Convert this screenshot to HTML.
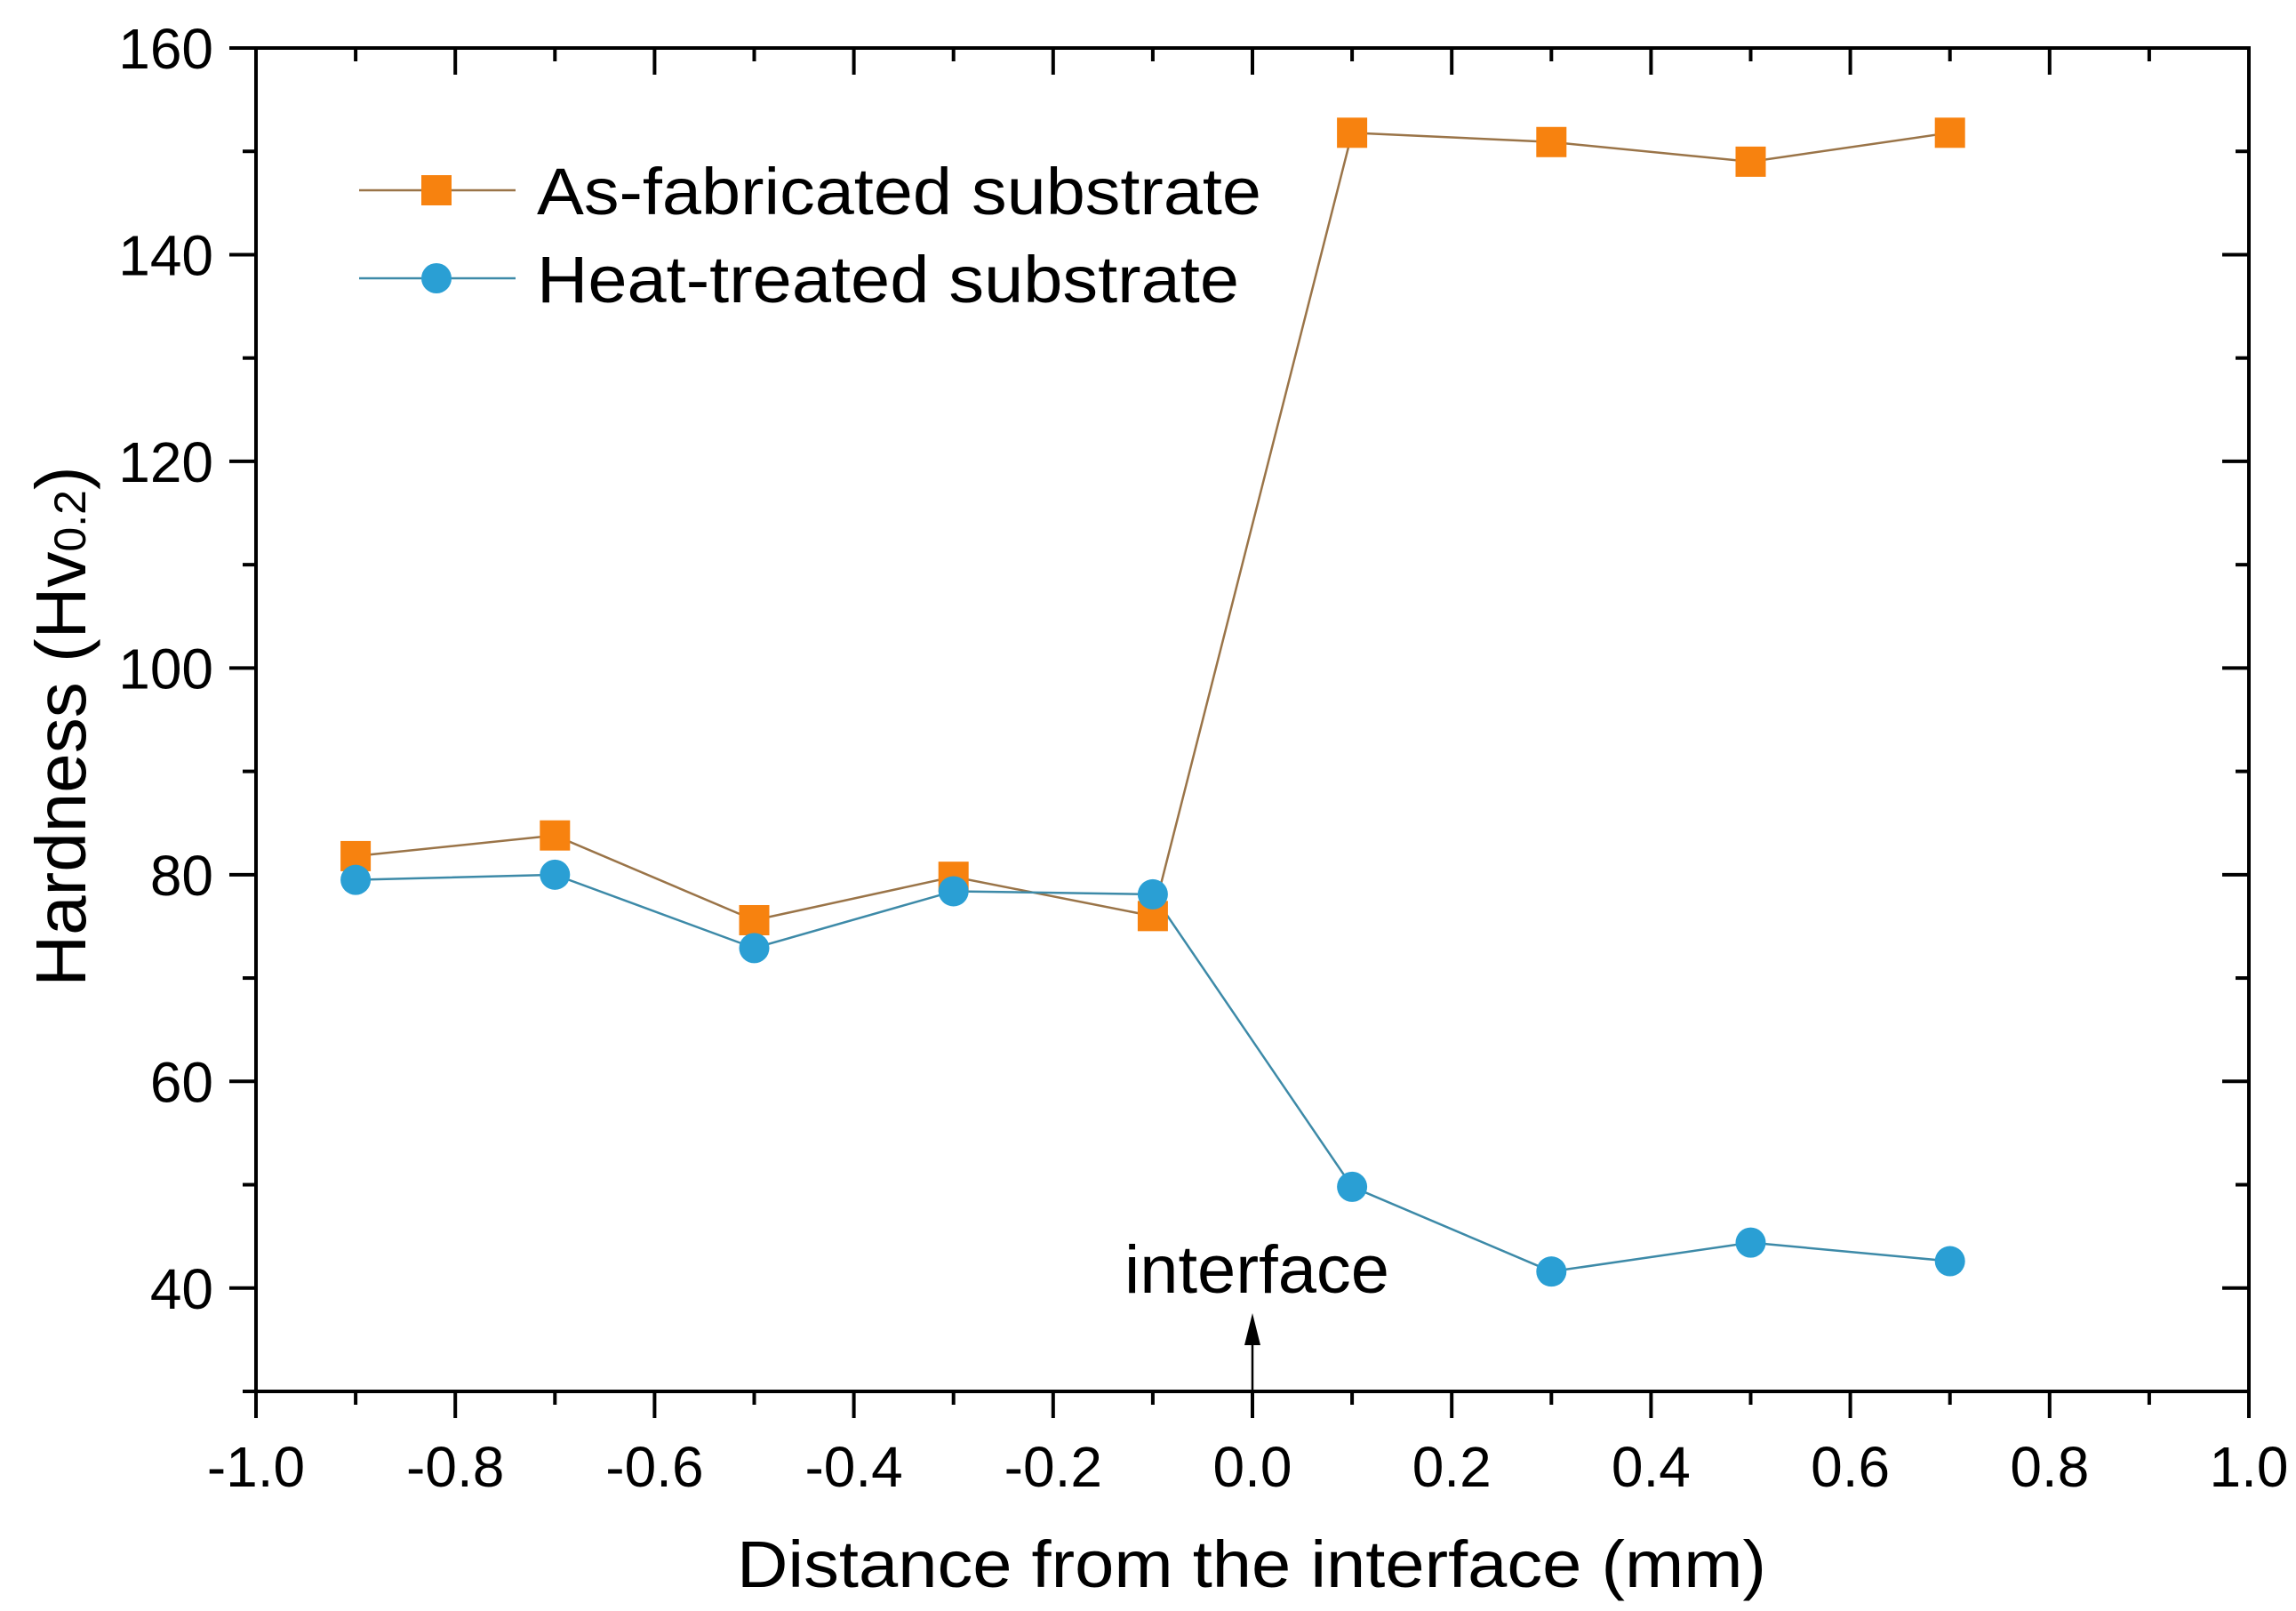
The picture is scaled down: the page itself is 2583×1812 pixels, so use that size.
<!DOCTYPE html>
<html><head><meta charset="utf-8"><style>
html,body{margin:0;padding:0;background:#fff;}
svg{display:block;font-family:"Liberation Sans",Arial,sans-serif;}
</style></head><body>
<svg id="chart" width="2583" height="1812" viewBox="0 0 2583 1812" xmlns="http://www.w3.org/2000/svg">
<rect width="2583" height="1812" fill="#fff"/>
<g id="plot"></g>
</svg>
<script>
const xValues = [-0.9, -0.7, -0.5, -0.3, -0.1, 0.1, 0.3, 0.5, 0.7];
const asFabricated = [81.8, 83.8, 75.6, 79.8, 76.0, 151.8, 150.9, 149.0, 151.8];
const heatTreated = [79.5, 80.0, 72.9, 78.4, 78.1, 49.8, 41.6, 44.4, 42.6];
const xTickLabels = ["-1.0","-0.8","-0.6","-0.4","-0.2","0.0","0.2","0.4","0.6","0.8","1.0"];
const yTickLabels = ["40","60","80","100","120","140","160"];

const NS = "http://www.w3.org/2000/svg";
const L = 288, R = 2530, T = 54, B = 1565;
const xMin = -1, xMax = 1, yMin = 30, yMax = 160;
function sx(v){ return L + (v - xMin) / (xMax - xMin) * (R - L); }
function sy(v){ return B - (v - yMin) / (yMax - yMin) * (B - T); }
const g = document.getElementById('plot');
function el(tag, attrs, parent){
  const e = document.createElementNS(NS, tag);
  for (const k in attrs) e.setAttribute(k, attrs[k]);
  (parent || g).appendChild(e);
  return e;
}

function drawSeries(vals, lineColor, name){
  const pts = xValues.map((x,i)=> sx(x)+','+sy(vals[i])).join(' ');
  const pl = el('polyline', {points: pts, fill:'none', stroke: lineColor, 'stroke-width': 2.5});
  
  
}
drawSeries(asFabricated, '#9a7448', 'as-fabricated');
drawSeries(heatTreated, '#3d8aa8', 'heat-treated');

xValues.forEach((x,i)=>{
  const r = el('rect', {x: sx(x)-17, y: sy(asFabricated[i])-17, width:34, height:34, fill:'#f7820f'});
  
  
});
xValues.forEach((x,i)=>{
  const c = el('circle', {cx: sx(x), cy: sy(heatTreated[i]), r:17, fill:'#2a9fd4'});
  
  
});

const frame = el('rect', {x:L, y:T, width:R-L, height:B-T, fill:'none', stroke:'#000', 'stroke-width':4});



for (let i = 0; i <= 20; i++){
  const v = xMin + i*0.1, x = sx(v), major = i % 2 === 0;
  const len = major ? 30 : 15;
  const t1 = el('line', {x1:x, y1:B, x2:x, y2:B+len, stroke:'#000', 'stroke-width':4});
  
  
  const t2 = el('line', {x1:x, y1:T, x2:x, y2:T+len, stroke:'#000', 'stroke-width':4});
  
  
}
xTickLabels.forEach((lab, i)=>{
  const t = el('text', {x: sx(xMin + i*0.2), y:1672, 'font-size':64, 'text-anchor':'middle', fill:'#000'});
  t.textContent = lab;
  
  
});
for (let v = yMin; v <= yMax; v += 10){
  const y = sy(v), major = (v % 20 === 0);
  const len = major ? 30 : 15;
  const t1 = el('line', {x1:L-len, y1:y, x2:L, y2:y, stroke:'#000', 'stroke-width':4});
  
  
  const t2 = el('line', {x1:R-len, y1:y, x2:R, y2:y, stroke:'#000', 'stroke-width':4});
  
  
}
yTickLabels.forEach((lab)=>{
  const t = el('text', {x:240, y: sy(parseFloat(lab))+23, 'font-size':64, 'text-anchor':'end', fill:'#000'});
  t.textContent = lab;
  
  
});

const xt = el('text', {x:1408, y:1785, 'font-size':74, 'text-anchor':'middle', fill:'#000', textLength:1158, lengthAdjust:'spacingAndGlyphs'});
xt.textContent = 'Distance from the interface (mm)';



const yt = el('text', {x:0, y:0, 'font-size':80, 'text-anchor':'middle', fill:'#000', transform:'translate(96,817) rotate(-90)'});
yt.innerHTML = 'Hardness (Hv<tspan font-size="50">0.2</tspan>)';



const leg = el('g', {});


const l1 = el('line', {x1:404, y1:214, x2:580, y2:214, stroke:'#9a7448', 'stroke-width':2.5}, leg);


const m1 = el('rect', {x:474, y:197, width:34, height:34, fill:'#f7820f'}, leg);


const tx1 = el('text', {x:604, y:241, 'font-size':74, fill:'#000', textLength:815, lengthAdjust:'spacingAndGlyphs'}, leg);
tx1.textContent = 'As-fabricated substrate';


const l2 = el('line', {x1:404, y1:313, x2:580, y2:313, stroke:'#3d8aa8', 'stroke-width':2.5}, leg);


const m2 = el('circle', {cx:491, cy:313, r:17, fill:'#2a9fd4'}, leg);


const tx2 = el('text', {x:604, y:340, 'font-size':74, fill:'#000', textLength:790, lengthAdjust:'spacingAndGlyphs'}, leg);
tx2.textContent = 'Heat-treated substrate';



const ax = sx(0);
const al = el('line', {x1:ax, y1:B, x2:ax, y2:1500, stroke:'#000', 'stroke-width':2.5});


const ah = el('polygon', {points: `${ax},1477 ${ax-9},1513 ${ax+9},1513`, fill:'#000'});


const it = el('text', {x:1265, y:1454, 'font-size':76, fill:'#000', textLength:298, lengthAdjust:'spacingAndGlyphs'});
it.textContent = 'interface';


</script>
</body></html>
